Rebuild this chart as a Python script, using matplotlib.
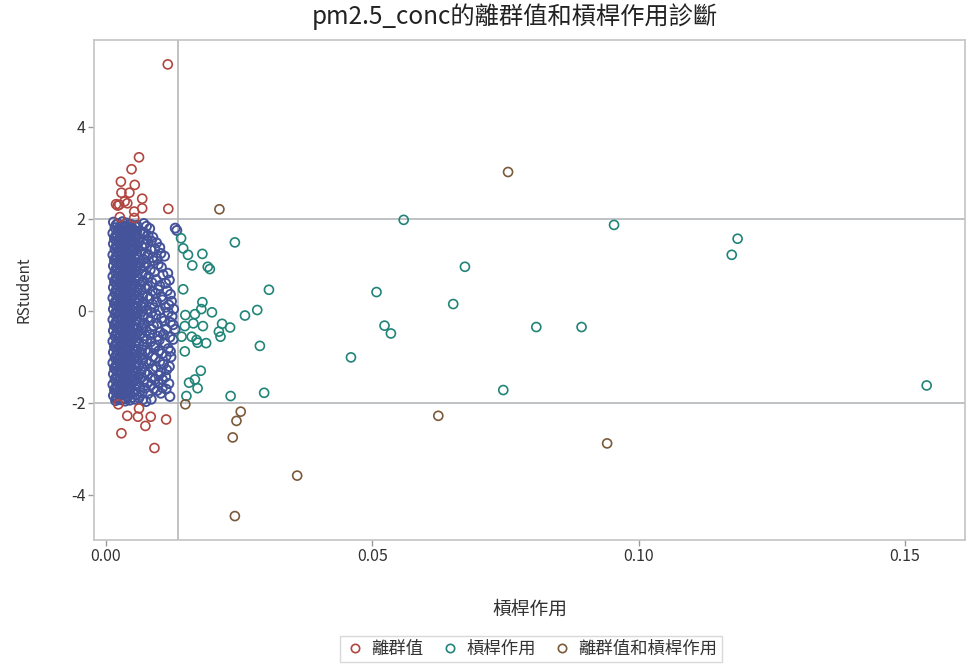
import matplotlib
matplotlib.use("Agg")
import matplotlib.pyplot as plt
from matplotlib.lines import Line2D

plt.rcParams["font.family"] = ["Noto Sans CJK TC", "DejaVu Sans"]
plt.rcParams["axes.unicode_minus"] = False

title = "pm2.5_conc的離群值和槓桿作用診斷"
x_label = "槓桿作用"
y_label = "RStudent"
legend_labels = ["離群值", "槓桿作用", "離群值和槓桿作用"]
x_ticks = [0.00, 0.05, 0.10, 0.15]
y_ticks = [-4, -2, 0, 2, 4]
rstudent_cutoff = 2.0
leverage_cutoff = 0.0135

normal_pts = [
    (0.0014, 1.93), (0.0022, 1.90), (0.0031, 1.94), (0.0039, 1.91), (0.0047, 1.88), (0.0058, 1.86), (0.0071, 1.90),
    (0.0017, 1.81), (0.0026, 1.78), (0.0034, 1.82), (0.0043, 1.79), (0.0051, 1.77), (0.0064, 1.74), (0.0082, 1.79), (0.0130, 1.80), (0.0133, 1.75),
    (0.0013, 1.69), (0.0021, 1.66), (0.0029, 1.70), (0.0038, 1.67), (0.0046, 1.65), (0.0057, 1.62), (0.0069, 1.67), (0.0088, 1.60),
    (0.0016, 1.57), (0.0025, 1.55), (0.0033, 1.58), (0.0042, 1.56), (0.0050, 1.53), (0.0062, 1.51), (0.0077, 1.55), (0.0095, 1.48),
    (0.0014, 1.46), (0.0022, 1.43), (0.0030, 1.47), (0.0039, 1.44), (0.0048, 1.42), (0.0059, 1.40), (0.0073, 1.45), (0.0101, 1.38),
    (0.0017, 1.34), (0.0026, 1.31), (0.0034, 1.35), (0.0043, 1.32), (0.0052, 1.30), (0.0066, 1.28), (0.0084, 1.33),
    (0.0013, 1.22), (0.0021, 1.19), (0.0030, 1.23), (0.0038, 1.20), (0.0047, 1.18), (0.0060, 1.16), (0.0078, 1.21), (0.0096, 1.14), (0.0110, 1.19),
    (0.0016, 1.10), (0.0025, 1.07), (0.0033, 1.11), (0.0042, 1.08), (0.0051, 1.06), (0.0064, 1.04), (0.0089, 1.09),
    (0.0014, 0.98), (0.0022, 0.95), (0.0031, 0.99), (0.0040, 0.96), (0.0048, 0.94), (0.0058, 0.92), (0.0072, 0.97), (0.0104, 0.95),
    (0.0017, 0.86), (0.0026, 0.84), (0.0034, 0.87), (0.0043, 0.85), (0.0053, 0.82), (0.0068, 0.80), (0.0091, 0.85), (0.0116, 0.82),
    (0.0013, 0.75), (0.0021, 0.72), (0.0029, 0.76), (0.0038, 0.73), (0.0047, 0.71), (0.0061, 0.69), (0.0080, 0.74),
    (0.0016, 0.63), (0.0025, 0.60), (0.0033, 0.64), (0.0042, 0.61), (0.0051, 0.59), (0.0065, 0.57), (0.0086, 0.62), (0.0112, 0.60),
    (0.0014, 0.51), (0.0022, 0.48), (0.0030, 0.52), (0.0039, 0.49), (0.0048, 0.47), (0.0059, 0.45), (0.0075, 0.50), (0.0098, 0.46),
    (0.0017, 0.39), (0.0026, 0.37), (0.0035, 0.40), (0.0044, 0.38), (0.0053, 0.35), (0.0069, 0.33), (0.0093, 0.38), (0.0121, 0.36),
    (0.0013, 0.28), (0.0021, 0.25), (0.0030, 0.29), (0.0038, 0.26), (0.0047, 0.24), (0.0062, 0.22), (0.0082, 0.27), (0.0106, 0.24),
    (0.0016, 0.16), (0.0025, 0.13), (0.0033, 0.17), (0.0042, 0.14), (0.0051, 0.12), (0.0066, 0.10), (0.0087, 0.15), (0.0118, 0.13),
    (0.0014, 0.04), (0.0022, 0.01), (0.0031, 0.05), (0.0040, 0.02), (0.0049, 0.00), (0.0060, -0.02), (0.0077, 0.03), (0.0100, 0.01), (0.0127, 0.04),
    (0.0017, -0.07), (0.0026, -0.10), (0.0034, -0.06), (0.0043, -0.09), (0.0052, -0.11), (0.0070, -0.13), (0.0094, -0.08), (0.0124, -0.12),
    (0.0013, -0.19), (0.0021, -0.22), (0.0030, -0.18), (0.0038, -0.21), (0.0047, -0.23), (0.0063, -0.25), (0.0083, -0.20), (0.0109, -0.22),
    (0.0016, -0.31), (0.0025, -0.34), (0.0033, -0.30), (0.0042, -0.33), (0.0051, -0.35), (0.0067, -0.37), (0.0089, -0.32), (0.0126, -0.30), (0.0130, -0.40),
    (0.0014, -0.43), (0.0022, -0.46), (0.0031, -0.42), (0.0039, -0.45), (0.0048, -0.47), (0.0058, -0.49), (0.0076, -0.44), (0.0102, -0.46),
    (0.0017, -0.55), (0.0026, -0.57), (0.0034, -0.54), (0.0043, -0.56), (0.0052, -0.58), (0.0071, -0.60), (0.0097, -0.55), (0.0120, -0.57),
    (0.0013, -0.66), (0.0021, -0.69), (0.0030, -0.65), (0.0038, -0.68), (0.0047, -0.70), (0.0062, -0.72), (0.0084, -0.67), (0.0111, -0.70),
    (0.0016, -0.78), (0.0025, -0.81), (0.0033, -0.77), (0.0042, -0.80), (0.0051, -0.82), (0.0067, -0.84), (0.0090, -0.79), (0.0117, -0.82),
    (0.0014, -0.90), (0.0022, -0.93), (0.0031, -0.89), (0.0040, -0.92), (0.0049, -0.94), (0.0059, -0.96), (0.0079, -0.91), (0.0105, -0.93),
    (0.0017, -1.02), (0.0026, -1.04), (0.0034, -1.01), (0.0043, -1.03), (0.0052, -1.05), (0.0069, -1.07), (0.0093, -1.02), (0.0122, -1.00),
    (0.0013, -1.13), (0.0021, -1.16), (0.0030, -1.12), (0.0038, -1.15), (0.0047, -1.17), (0.0061, -1.19), (0.0081, -1.14), (0.0108, -1.16),
    (0.0016, -1.25), (0.0025, -1.28), (0.0033, -1.24), (0.0042, -1.27), (0.0051, -1.29), (0.0066, -1.31), (0.0088, -1.26), (0.0114, -1.28),
    (0.0014, -1.37), (0.0022, -1.40), (0.0031, -1.36), (0.0039, -1.39), (0.0048, -1.41), (0.0060, -1.43), (0.0078, -1.38), (0.0099, -1.40),
    (0.0017, -1.49), (0.0026, -1.51), (0.0034, -1.48), (0.0043, -1.50), (0.0053, -1.52), (0.0070, -1.54), (0.0092, -1.49), (0.0106, -1.49), (0.0118, -1.58),
    (0.0013, -1.60), (0.0021, -1.63), (0.0030, -1.59), (0.0038, -1.62), (0.0047, -1.64), (0.0063, -1.66), (0.0085, -1.61),
    (0.0016, -1.72), (0.0025, -1.75), (0.0033, -1.71), (0.0042, -1.74), (0.0051, -1.76), (0.0068, -1.78), (0.0096, -1.73), (0.0113, -1.70),
    (0.0014, -1.84), (0.0022, -1.87), (0.0031, -1.83), (0.0040, -1.86), (0.0049, -1.88), (0.0062, -1.89), (0.0085, -1.92), (0.0120, -1.86),
    (0.0018, -1.95), (0.0027, -1.93), (0.0036, -1.96), (0.0045, -1.94), (0.0075, -1.97),
    # points sitting between the rows above
    (0.0019, 1.87), (0.0036, 1.85), (0.0055, 1.83), (0.0076, 1.84),
    (0.0023, 1.74), (0.0040, 1.72), (0.0058, 1.73), (0.0072, 1.70),
    (0.0018, 1.63), (0.0035, 1.61), (0.0055, 1.60), (0.0079, 1.64),
    (0.0021, 1.51), (0.0038, 1.50), (0.0056, 1.48), (0.0085, 1.52),
    (0.0019, 1.40), (0.0036, 1.38), (0.0054, 1.37), (0.0067, 1.41), (0.0092, 1.35),
    (0.0022, 1.27), (0.0039, 1.26), (0.0057, 1.24), (0.0074, 1.26), (0.0103, 1.25),
    (0.0018, 1.16), (0.0035, 1.14), (0.0055, 1.13), (0.0070, 1.12), (0.0088, 1.16),
    (0.0021, 1.03), (0.0038, 1.02), (0.0057, 1.00), (0.0076, 1.02), (0.0098, 1.01),
    (0.0019, 0.92), (0.0036, 0.90), (0.0054, 0.89), (0.0065, 0.93), (0.0083, 0.89),
    (0.0022, 0.80), (0.0039, 0.79), (0.0058, 0.77), (0.0075, 0.78), (0.0107, 0.79),
    (0.0018, 0.69), (0.0035, 0.67), (0.0055, 0.66), (0.0070, 0.65), (0.0094, 0.68), (0.0119, 0.67),
    (0.0021, 0.56), (0.0038, 0.55), (0.0057, 0.53), (0.0078, 0.54), (0.0101, 0.55),
    (0.0019, 0.45), (0.0036, 0.44), (0.0055, 0.42), (0.0066, 0.46), (0.0087, 0.43), (0.0115, 0.44),
    (0.0022, 0.33), (0.0039, 0.32), (0.0058, 0.30), (0.0078, 0.31), (0.0104, 0.31),
    (0.0018, 0.21), (0.0035, 0.20), (0.0055, 0.18), (0.0071, 0.19), (0.0095, 0.20), (0.0123, 0.21),
    (0.0021, 0.09), (0.0038, 0.08), (0.0057, 0.06), (0.0069, 0.09), (0.0090, 0.07), (0.0112, 0.08),
    (0.0019, -0.02), (0.0036, -0.03), (0.0055, -0.05), (0.0067, -0.01), (0.0085, -0.04), (0.0117, -0.03),
    (0.0022, -0.14), (0.0039, -0.15), (0.0058, -0.17), (0.0079, -0.15), (0.0104, -0.16),
    (0.0018, -0.26), (0.0035, -0.27), (0.0055, -0.29), (0.0072, -0.27), (0.0096, -0.28), (0.0121, -0.25),
    (0.0021, -0.38), (0.0038, -0.39), (0.0057, -0.41), (0.0069, -0.37), (0.0086, -0.40), (0.0113, -0.39),
    (0.0019, -0.50), (0.0036, -0.51), (0.0055, -0.53), (0.0066, -0.49), (0.0083, -0.52), (0.0108, -0.51),
    (0.0022, -0.61), (0.0039, -0.62), (0.0058, -0.64), (0.0077, -0.62), (0.0100, -0.63), (0.0126, -0.62),
    (0.0018, -0.73), (0.0035, -0.74), (0.0055, -0.76), (0.0071, -0.73), (0.0093, -0.75),
    (0.0021, -0.85), (0.0038, -0.86), (0.0057, -0.88), (0.0074, -0.86), (0.0099, -0.87), (0.0121, -0.88),
    (0.0019, -0.97), (0.0036, -0.98), (0.0055, -1.00), (0.0068, -0.96), (0.0088, -0.99), (0.0113, -0.98),
    (0.0022, -1.08), (0.0039, -1.09), (0.0058, -1.11), (0.0076, -1.09), (0.0101, -1.10),
    (0.0018, -1.20), (0.0035, -1.21), (0.0055, -1.23), (0.0071, -1.20), (0.0094, -1.22), (0.0119, -1.21),
    (0.0021, -1.32), (0.0038, -1.33), (0.0057, -1.35), (0.0073, -1.33), (0.0103, -1.34),
    (0.0019, -1.44), (0.0036, -1.45), (0.0055, -1.47), (0.0067, -1.44), (0.0087, -1.46), (0.0112, -1.43),
    (0.0022, -1.55), (0.0039, -1.56), (0.0058, -1.58), (0.0078, -1.56), (0.0098, -1.57),
    (0.0018, -1.67), (0.0035, -1.68), (0.0055, -1.70), (0.0073, -1.68), (0.0090, -1.69), (0.0106, -1.67),
    (0.0021, -1.79), (0.0038, -1.80), (0.0057, -1.82), (0.0079, -1.80), (0.0103, -1.79),
    (0.0019, -1.90), (0.0036, -1.91), (0.0055, -1.92), (0.0069, -1.93),
    # the thickest part of the cloud
    (0.0027, 1.84), (0.0045, 1.83), (0.0029, 1.72), (0.0047, 1.71), (0.0026, 1.60), (0.0044, 1.59),
    (0.0028, 1.49), (0.0046, 1.47), (0.0027, 1.37), (0.0045, 1.36), (0.0029, 1.25), (0.0047, 1.23),
    (0.0026, 1.13), (0.0044, 1.12), (0.0028, 1.01), (0.0046, 1.00), (0.0027, 0.89), (0.0045, 0.88),
    (0.0029, 0.78), (0.0047, 0.76), (0.0026, 0.66), (0.0044, 0.65), (0.0028, 0.54), (0.0046, 0.53),
    (0.0027, 0.42), (0.0045, 0.41), (0.0029, 0.31), (0.0047, 0.29), (0.0026, 0.19), (0.0044, 0.18),
    (0.0028, 0.07), (0.0046, 0.06), (0.0027, -0.04), (0.0045, -0.05), (0.0029, -0.16), (0.0047, -0.17),
    (0.0026, -0.28), (0.0044, -0.29), (0.0028, -0.40), (0.0046, -0.41), (0.0027, -0.52), (0.0045, -0.53),
    (0.0029, -0.63), (0.0047, -0.65), (0.0026, -0.75), (0.0044, -0.76), (0.0028, -0.87), (0.0046, -0.88),
    (0.0027, -0.99), (0.0045, -1.00), (0.0029, -1.10), (0.0047, -1.12), (0.0026, -1.22), (0.0044, -1.23),
    (0.0028, -1.34), (0.0046, -1.35), (0.0027, -1.46), (0.0045, -1.47), (0.0029, -1.57), (0.0047, -1.59),
    (0.0026, -1.69), (0.0044, -1.70), (0.0028, -1.81), (0.0046, -1.82), (0.0032, -1.91),
]

outlier_lev = [0.0116, 0.0062, 0.0048, 0.0028, 0.0054, 0.0029, 0.0044, 0.0068, 0.0035,
               0.0019, 0.0022, 0.0025, 0.0040, 0.0068, 0.0117, 0.0053, 0.0053, 0.0026,
               0.0023, 0.0062, 0.0040, 0.0060, 0.0084, 0.0074, 0.0113, 0.0029, 0.0091]
outlier_rs = [5.36, 3.34, 3.08, 2.81, 2.74, 2.57, 2.57, 2.44, 2.38,
              2.32, 2.29, 2.31, 2.34, 2.23, 2.22, 2.16, 2.02, 2.04,
              -2.03, -2.12, -2.28, -2.30, -2.30, -2.50, -2.36, -2.66, -2.98]

leverage_lev = [0.0141, 0.0145, 0.0154, 0.0181, 0.0162, 0.0191, 0.0195, 0.0242, 0.0145,
                0.0306, 0.0181, 0.0284, 0.0261, 0.0149, 0.0167, 0.0179, 0.0199, 0.0148,
                0.0164, 0.0182, 0.0218, 0.0233, 0.0212, 0.0215, 0.0142, 0.0161, 0.0170,
                0.0188, 0.0172, 0.0148, 0.0289, 0.0178, 0.0156, 0.0167, 0.0172, 0.0151,
                0.0234, 0.0297, 0.0559, 0.0954, 0.0674, 0.0508, 0.0652, 0.0523, 0.0535,
                0.0808, 0.0893, 0.0460, 0.0746, 0.1186, 0.1175, 0.1541]
leverage_rs = [1.58, 1.36, 1.22, 1.24, 0.99, 0.96, 0.91, 1.49, 0.47,
               0.46, 0.19, 0.02, -0.10, -0.09, -0.07, 0.04, -0.03, -0.33,
               -0.27, -0.33, -0.28, -0.36, -0.45, -0.56, -0.56, -0.56, -0.63,
               -0.70, -0.69, -0.88, -0.76, -1.30, -1.56, -1.49, -1.68, -1.85,
               -1.85, -1.78, 1.98, 1.87, 0.96, 0.41, 0.15, -0.32, -0.49,
               -0.35, -0.35, -1.01, -1.72, 1.57, 1.22, -1.62]

both_lev = [0.0213, 0.0755, 0.0149, 0.0253, 0.0245, 0.0238, 0.0242, 0.0359, 0.0624, 0.0941]
both_rs = [2.21, 3.02, -2.03, -2.19, -2.39, -2.75, -4.46, -3.58, -2.28, -2.88]

c_normal = "#44539A"
c_outlier = "#B0463F"
c_leverage = "#218479"
c_both = "#7A5A3A"
grid_c = "#AEB2B5"
text_c = "#333333"

fig = plt.figure(figsize=(9.66, 6.64), dpi=100)
ax = fig.add_axes([94 / 966, 1 - 540 / 664, 871 / 966, 500 / 664])

ax.axhline(rstudent_cutoff, color=grid_c, lw=1.1, zorder=1)
ax.axhline(-rstudent_cutoff, color=grid_c, lw=1.1, zorder=1)
ax.axvline(leverage_cutoff, color=grid_c, lw=1.1, zorder=1)

mk = dict(marker="o", s=42, facecolors="none", linewidths=1.2, zorder=3)
nx = [p[0] for p in normal_pts]
ny = [p[1] for p in normal_pts]
ax.scatter(nx, ny, edgecolors=c_normal, **{**mk, "linewidths": 1.4})
ax.scatter(outlier_lev, outlier_rs, edgecolors=c_outlier, **mk)
ax.scatter(leverage_lev, leverage_rs, edgecolors=c_leverage, **mk)
ax.scatter(both_lev, both_rs, edgecolors=c_both, **mk)

ax.set_xlim(-0.00225, 0.1613)
ax.set_ylim(-4.98, 5.89)
ax.set_xticks(x_ticks)
ax.set_xticklabels([f"{v:.2f}" for v in x_ticks])
ax.set_yticks(y_ticks)
ax.tick_params(colors="#9A9A9A", labelcolor=text_c, labelsize=11.5, length=4, width=1, pad=2)
for s in ax.spines.values():
    s.set_color("#C4C4C4")
    s.set_linewidth(1.2)

ax.set_xlabel(x_label, fontsize=13.5, color=text_c, labelpad=24)
ax.set_ylabel(y_label, fontsize=11, color=text_c, labelpad=28)
fig.text(515 / 966, 1 - 17 / 664, title, ha="center", va="center", fontsize=17.5, color="#222222")

handles = [
    Line2D([], [], marker="o", ls="none", mfc="none", mec=c, mew=1.2, ms=6)
    for c in (c_outlier, c_leverage, c_both)
]
leg = fig.legend(handles, legend_labels, loc="center", bbox_to_anchor=(531 / 966, 1 - 649 / 664),
                 ncol=3, frameon=True, fancybox=False, fontsize=12.5, handletextpad=0.35,
                 columnspacing=0.9, borderpad=0.25, handlelength=1.2)
leg.get_frame().set_edgecolor("#D0D0D0")
leg.get_frame().set_linewidth(1.0)
for t in leg.get_texts():
    t.set_color(text_c)

fig.savefig("out.png", dpi=100)
